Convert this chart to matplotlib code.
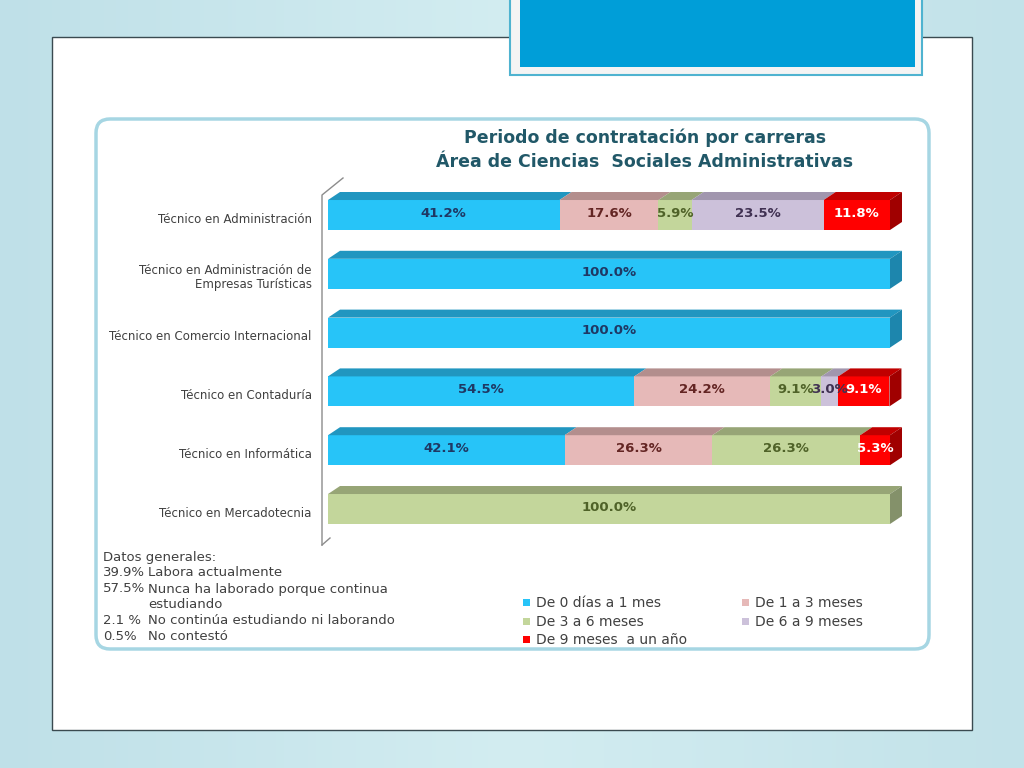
import numpy as np
import matplotlib.pyplot as plt
from matplotlib.patches import Rectangle, FancyBboxPatch, Polygon

# Data
careers = ["Técnico en Administración",
           "Técnico en Administración de\nEmpresas Turísticas",
           "Técnico en Comercio Internacional",
           "Técnico en Contaduría",
           "Técnico en Informática",
           "Técnico en Mercadotecnia"]
series = ["De 0 días a 1 mes", "De 1 a 3 meses", "De 3 a 6 meses",
          "De 6 a 9 meses", "De 9 meses  a un año"]
mes_0_1 = [41.2, 100.0, 100.0, 54.5, 42.1, 0.0]
mes_1_3 = [17.6, 0.0, 0.0, 24.2, 26.3, 0.0]
mes_3_6 = [5.9, 0.0, 0.0, 9.1, 26.3, 100.0]
mes_6_9 = [23.5, 0.0, 0.0, 3.0, 0.0, 0.0]
mes_9_12 = [11.8, 0.0, 0.0, 9.1, 5.3, 0.0]
general_pct = ["39.9%", "57.5%", "", "2.1 %", "0.5%"]
general_txt = ["Labora actualmente", "Nunca ha laborado porque continua",
               "estudiando", "No continúa estudiando ni laborando", "No contestó"]

front = ["#27c4f8", "#e6b9b8", "#c3d69b", "#ccc1da", "#ff0000"]
top = ["#2196c0", "#b38e8d", "#97a576", "#a196ae", "#c00000"]
side = ["#1d86ad", "#9c7a79", "#84916a", "#8e849a", "#a00000"]
txtcol = ["#1f3864", "#632523", "#4f6228", "#403152", "#ffffff"]

W, H = 1024, 768
fig = plt.figure(figsize=(W / 100, H / 100), dpi=100)


def fx(x):
    return x / W


def fy(y):
    return 1 - y / H


# slide background
bg = fig.add_axes([0, 0, 1, 1])
bg.set_xlim(0, W)
bg.set_ylim(H, 0)
bg.axis("off")
grad = np.tile(np.linspace(0, 1, 256), (2, 1))
bg.imshow(grad, extent=[0, W, H, 0], aspect="auto",
          cmap=plt.matplotlib.colors.LinearSegmentedColormap.from_list("bgc", ["#bfe0e8", "#d3edf1", "#c2e2e9"]))
bg.add_patch(Rectangle((52, 37), 920, 693, facecolor="white", edgecolor="#3a4a50", lw=1.0))
bg.add_patch(Rectangle((510, -5), 412, 80, facecolor="#f4f4f4", edgecolor="#4fb3d0", lw=1.5))
bg.add_patch(Rectangle((520, -5), 395, 72, facecolor="#009ed8", edgecolor="none"))
bg.add_patch(FancyBboxPatch((96, 119), 833, 530, boxstyle="round,pad=0,rounding_size=14",
                            facecolor="white", edgecolor="#a6d6e3", lw=2.5))

# title
bg.text(645, 138, "Periodo de contratación por carreras", ha="center", va="center",
        fontsize=12.5, fontweight="bold", color="#215868")
bg.text(645, 162, "Área de Ciencias  Sociales Administrativas", ha="center", va="center",
        fontsize=12.5, fontweight="bold", color="#215868")

# axis wall
bg.plot([322, 322, 343], [545, 195, 178], color="#8c8c8c", lw=1.0)
bg.plot([322, 330], [545, 538], color="#8c8c8c", lw=1.0)

# chart axes
ax = fig.add_axes([fx(328), fy(538.4), fx(890 - 328), (538.4 - 185.6) / H])
ax.set_xlim(0, 100)
ax.set_ylim(-0.5, 5.5)
ax.axis("off")
ax.patch.set_alpha(0)

dx = 12 / 5.62
dy = 8 / 58.8
h = 0.51
data = np.array([mes_0_1, mes_1_3, mes_3_6, mes_6_9, mes_9_12])
n = len(careers)
for i in range(n):
    y = n - 1 - i
    left = 0.0
    last = max(k for k in range(len(series)) if data[k, i] > 0)
    for k in range(len(series)):
        w = data[k, i]
        if w <= 0:
            continue
        ax.barh(y, w, left=left, height=h, color=front[k], edgecolor="none")
        ax.add_patch(Polygon([(left, y + h / 2), (left + w, y + h / 2),
                              (left + w + dx, y + h / 2 + dy), (left + dx, y + h / 2 + dy)],
                             closed=True, facecolor=top[k], edgecolor="none", clip_on=False))
        if k == last:
            r = left + w
            ax.add_patch(Polygon([(r, y - h / 2), (r, y + h / 2), (r + dx, y + h / 2 + dy),
                                  (r + dx, y - h / 2 + dy)],
                                 closed=True, facecolor=side[k], edgecolor="none", clip_on=False))
        ax.text(left + w / 2, y + 0.03, f"{w:.1f}%", ha="center", va="center", fontsize=9.5,
                fontweight="bold", color=txtcol[k], clip_on=False)
        left += w
    ax.text(-2.9, y - 0.07, careers[i], ha="right", va="center", fontsize=8.5, color="#404040",
            linespacing=1.1)

# general data block
bg.text(103, 557, "Datos generales:", ha="left", va="center", fontsize=9.5, color="#404040")
for j in range(len(general_txt)):
    yy = 573 + j * 16
    bg.text(103, yy, general_pct[j], ha="left", va="center", fontsize=9.5, color="#404040")
    bg.text(148, yy, general_txt[j], ha="left", va="center", fontsize=9.5, color="#404040")

# legend
pos = [(527, 603), (746, 603), (527, 622), (746, 622), (527, 640)]
for k in range(len(series)):
    x0, y0 = pos[k]
    bg.add_patch(Rectangle((x0 - 4, y0 - 4), 7, 7, facecolor=front[k], edgecolor="none"))
    bg.text(x0 + 9, y0, series[k], ha="left", va="center", fontsize=10, color="#404040")

fig.savefig("out.png", dpi=100)
